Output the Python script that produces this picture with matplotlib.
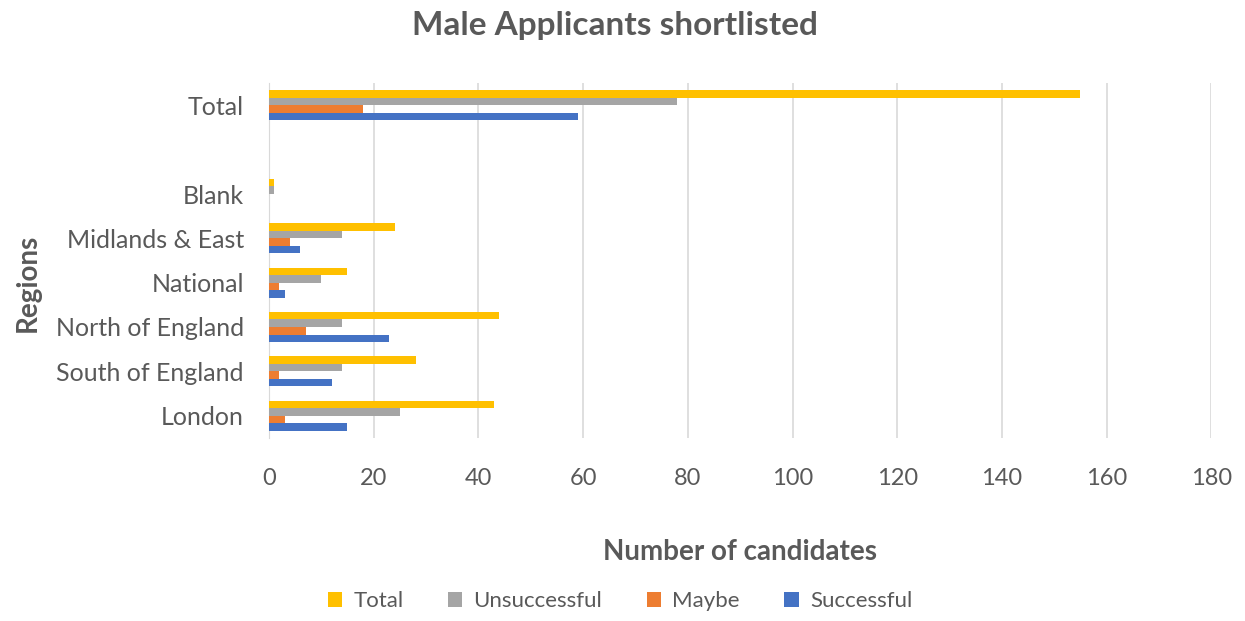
import numpy as np
import matplotlib.pyplot as plt

plt.rcParams['font.family'] = ['Lato', 'DejaVu Sans']

# categories bottom to top, the empty slot sits between Blank and Total
regions = ["London", "South of England", "North of England", "National",
           "Midlands & East", "Blank", "", "Total"]
total = [43, 28, 44, 15, 24, 1, 0, 155]
unsuccessful = [25, 14, 14, 10, 14, 1, 0, 78]
maybe = [3, 2, 7, 2, 4, 0, 0, 18]
successful = [15, 12, 23, 3, 6, 0, 0, 59]

series = [("Total", total, "#FFC000"),
          ("Unsuccessful", unsuccessful, "#A5A5A5"),
          ("Maybe", maybe, "#ED7D31"),
          ("Successful", successful, "#4472C4")]

grey = "#595959"
fig = plt.figure(figsize=(12.45, 6.21), dpi=100)
ax = fig.add_axes([0.216, 0.295, 0.757, 0.571])

y = np.arange(len(regions))
h = 0.17
offsets = [1.5 * h, 0.5 * h, -0.5 * h, -1.5 * h]
for (name, vals, col), off in zip(series, offsets):
    ax.barh(y + off, vals, height=h, color=col, label=name, zorder=3)

ax.set_xlim(0, 180)
ax.set_ylim(-0.5, len(regions) - 0.5)
ax.set_xticks(range(0, 181, 20))
ax.set_yticks(y)
ax.set_yticklabels(regions)
ax.tick_params(axis="x", length=0, labelsize=17, colors=grey, pad=22)
ax.tick_params(axis="y", length=0, labelsize=18, colors=grey, pad=18)
ax.grid(axis="x", color="#D9D9D9", linewidth=1.2, zorder=0)
for s in ["top", "right", "bottom"]:
    ax.spines[s].set_visible(False)
ax.spines["left"].set_color("#D9D9D9")

fig.suptitle("Male Applicants shortlisted", x=0.494, y=0.983, fontsize=24,
             fontweight="bold", color=grey)
ax.set_xlabel("Number of candidates", fontsize=20, fontweight="bold",
              color=grey, labelpad=36)
fig.text(0.022, 0.545, "Regions", rotation=90, fontsize=20, fontweight="bold",
         color=grey, ha="center", va="center")

handles, labels = ax.get_legend_handles_labels()
fig.legend(handles, labels, loc="center", bbox_to_anchor=(0.498, 0.032), ncol=4,
           frameon=False, fontsize=16, labelcolor=grey, handlelength=0.65,
           handleheight=0.65, columnspacing=2.0, handletextpad=0.5)

fig.savefig("out.png", dpi=100)
